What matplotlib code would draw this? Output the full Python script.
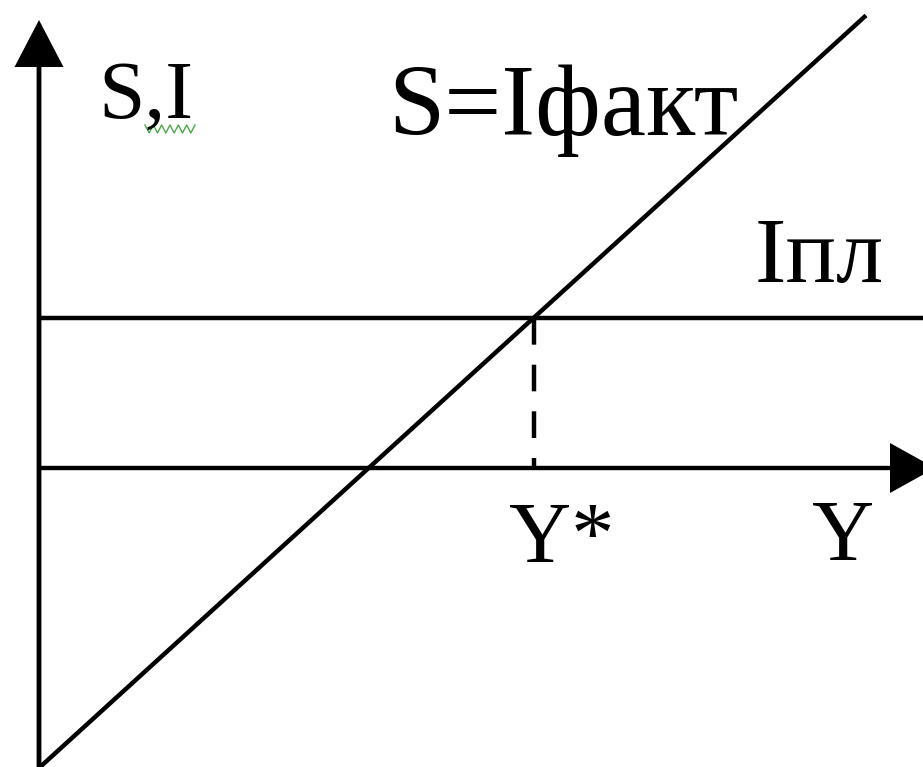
import matplotlib
matplotlib.use("Agg")
import matplotlib.pyplot as plt
import numpy as np

# model values (1 unit = 10 px in the picture)
S0 = -30.0          # savings at Y = 0
MPS = 0.91          # slope of S = Iфакт
I_PL = 15.0         # planned investment
Y_END = 82.7        # where the S line stops
Y_STAR = (I_PL - S0) / MPS

XLIM = (-3.9, 88.4)
YLIM = (-29.9, 46.8)

plt.rcParams["font.family"] = ["Liberation Serif", "DejaVu Serif"]

fig = plt.figure(figsize=(9.23, 7.67), dpi=100)
ax = fig.add_axes([0, 0, 1, 1])
ax.set_xlim(*XLIM)
ax.set_ylim(*YLIM)
ax.axis("off")

lw = 3.2
# axes with arrow heads
ax.arrow(0, YLIM[0], 0, 44.8 - YLIM[0], width=0.48, head_width=4.9,
         head_length=4.7, length_includes_head=True, color="black", lw=0)
ax.arrow(0, 0, 89.6, 0, width=0.44, head_width=5.0, head_length=4.5,
         length_includes_head=True, color="black", lw=0)

# planned investment line
ax.plot([0, XLIM[1]], [I_PL, I_PL], color="black", lw=lw,
        solid_capstyle="butt")
# S = Iфакт
ys = np.array([0, Y_END])
ax.plot(ys, S0 + MPS * ys, color="black", lw=lw, solid_capstyle="butt")
# equilibrium drop line
ax.plot([Y_STAR, Y_STAR], [I_PL, 0], color="black", lw=lw,
        linestyle=(0, (6.0, 4.5)), dash_capstyle="butt")

# labels
ax.text(5.9, 35.0, "S,I", fontsize=60, ha="left", va="baseline")
ax.text(34.9, 33.3, "S=Iфакт", fontsize=73, ha="left", va="baseline")
ax.text(71.6, 18.6, "Iпл", fontsize=68, ha="left", va="baseline")
ax.text(47.0, -9.4, "Y*", fontsize=62, ha="left", va="baseline")
ax.text(77.3, -9.2, "Y", fontsize=62, ha="left", va="baseline")

# spell-check squiggle under "S,I"
zx = np.linspace(10.6, 15.6, 13)
zy = np.where(np.arange(13) % 2 == 0, 34.3, 33.5)
ax.plot(zx, zy, color="#4aa84a", lw=1.0)

fig.savefig("out.png", dpi=100)
